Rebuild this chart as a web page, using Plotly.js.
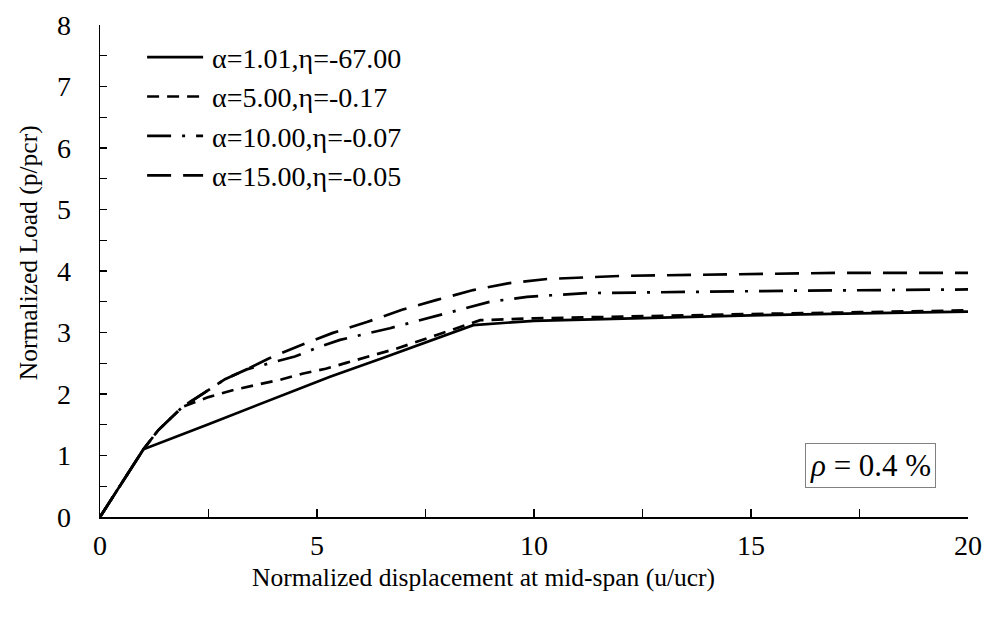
<!DOCTYPE html>
<html>
<head>
<meta charset="utf-8">
<script src="https://cdn.plot.ly/plotly-3.0.1.min.js"></script>
<style>html,body{margin:0;padding:0;background:#fff;}#chart{width:988px;height:622px;}</style>
</head>
<body>
<div id="chart"></div>
<script>
// Series names
const seriesNames = ['α=1.01,η=-67.00', 'α=5.00,η=-0.17', 'α=10.00,η=-0.07', 'α=15.00,η=-0.05'];

// α=1.01
const x1 = [0, 1.0, 2.5, 4.0, 5.3, 6.5, 7.5, 8.6, 10, 12.5, 15, 17.5, 20];
const y1 = [0, 1.1, 1.51, 1.92, 2.28, 2.58, 2.84, 3.12, 3.19, 3.24, 3.28, 3.31, 3.34];
// α=5.00
const x2 = [0, 1.0, 1.34, 1.55, 1.9, 2.5, 3.1, 3.61, 4.15, 4.66, 5.2, 5.69, 6.84, 7.76, 8.76, 10, 12.5, 15, 17.5, 20];
const y2 = [0, 1.1, 1.41, 1.55, 1.79, 1.95, 2.07, 2.15, 2.23, 2.33, 2.41, 2.51, 2.74, 2.96, 3.2, 3.23, 3.27, 3.3, 3.33, 3.36];
// α=10.00
const x3 = [0, 1.0, 1.34, 1.55, 1.9, 2.4, 2.88, 3.38, 3.9, 4.49, 5.03, 5.53, 6.68, 7.83, 8.99, 9.84, 11.2, 13.6, 16, 20];
const y3 = [0, 1.1, 1.41, 1.55, 1.79, 2.02, 2.24, 2.4, 2.5, 2.61, 2.76, 2.88, 3.07, 3.28, 3.5, 3.58, 3.64, 3.66, 3.68, 3.7];
// α=15.00
const x4 = [0, 1.0, 1.34, 1.55, 1.9, 2.4, 2.88, 3.38, 3.9, 4.54, 5.35, 6.15, 6.96, 7.76, 8.6, 9.4, 10.3, 12, 14.5, 17, 20];
const y4 = [0, 1.1, 1.41, 1.55, 1.79, 2.02, 2.24, 2.4, 2.58, 2.77, 2.99, 3.17, 3.37, 3.53, 3.69, 3.8, 3.87, 3.92, 3.95, 3.97, 3.97];

const xTickVals = [0, 5, 10, 15, 20];
const yTickVals = [0, 1, 2, 3, 4, 5, 6, 7, 8];

const FONT = 'Liberation Serif, Times New Roman, serif';
const dashes = ['solid', '12px,8px', '24px,11px,3px,11px', '24px,12px'];
const xs = [x1, x2, x3, x4], ys = [y1, y2, y3, y4];

const traces = xs.map((x, i) => ({
  x: x, y: ys[i], type: 'scatter', mode: 'lines', name: seriesNames[i],
  line: {color: '#000', width: 2.7, dash: dashes[i]}
}));

const layout = {
  width: 988, height: 622,
  margin: {l: 100, r: 20, t: 25, b: 105},
  paper_bgcolor: '#fff', plot_bgcolor: '#fff',
  font: {family: FONT, size: 22, color: '#000'},
  showlegend: true,
  legend: {x: 0.0485, y: 0.985, xanchor: 'left', yanchor: 'top', bgcolor: 'rgba(0,0,0,0)',
           font: {family: FONT, size: 28, color: '#000'}, itemwidth: 60, tracegroupgap: 0},
  xaxis: {range: [0, 20], tickvals: xTickVals, showgrid: false, zeroline: false,
          showline: true, linecolor: '#000', linewidth: 1.5, ticks: 'inside', ticklen: 8,
          tickwidth: 1.2, tickcolor: '#000', ticklabelstandoff: 3,
          minor: {dtick: 2.5, ticks: 'inside', ticklen: 8, tickwidth: 1.2, tickcolor: '#000'},
          tickfont: {family: FONT, size: 28}, fixedrange: true},
  yaxis: {range: [0, 8], tickvals: yTickVals, showgrid: false, zeroline: false,
          showline: true, linecolor: '#000', linewidth: 1.5, ticks: 'inside', ticklen: 7,
          tickwidth: 1.2, tickcolor: '#000', ticklabelstandoff: 22,
          minor: {dtick: 0.5, ticks: 'inside', ticklen: 7, tickwidth: 1.2, tickcolor: '#000'},
          tickfont: {family: FONT, size: 28}, fixedrange: true},
  annotations: [
    {text: 'Normalized displacement at mid-span (u/ucr)', xref: 'paper', yref: 'paper',
     x: 0.442, y: -0.122, xanchor: 'center', yanchor: 'middle', showarrow: false,
     font: {family: FONT, size: 25.5}},
    {text: 'Normalized Load (p/pcr)', xref: 'paper', yref: 'paper', textangle: -90,
     x: -0.083, y: 0.538, xanchor: 'center', yanchor: 'middle', showarrow: false,
     font: {family: FONT, size: 25.5}},
    {text: '<i>ρ</i> = 0.4 %', xref: 'paper', yref: 'paper', x: 0.888, y: 0.104,
     xanchor: 'center', yanchor: 'middle', showarrow: false,
     bordercolor: '#808080', borderwidth: 1, borderpad: 4, bgcolor: '#fff',
     font: {family: FONT, size: 31}}
  ]
};

Plotly.newPlot('chart', traces, layout, {displayModeBar: false, staticPlot: true}).then(function () {
  document.querySelectorAll('.legend path.js-line').forEach(function (p) {
    p.setAttribute('d', 'M5,0h56');
  });
});
</script>
</body>
</html>
